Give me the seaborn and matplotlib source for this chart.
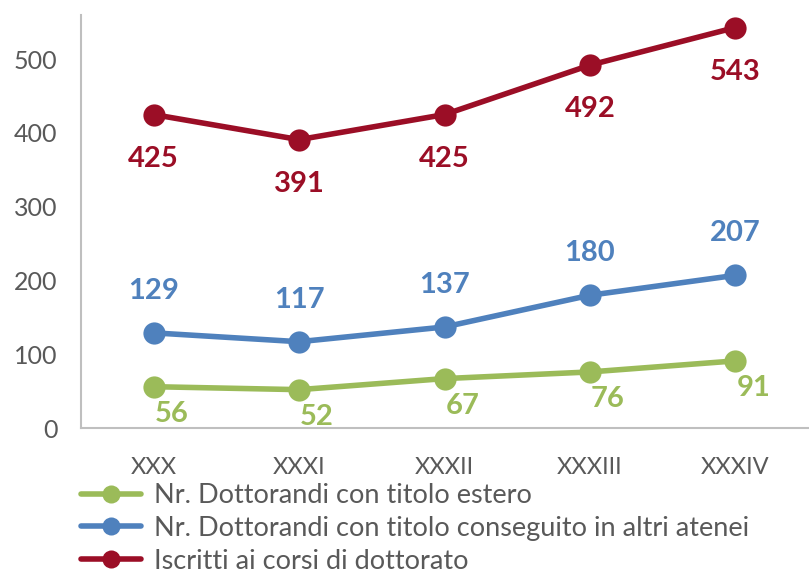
import matplotlib.pyplot as plt
import pandas as pd
import seaborn as sns

# Data
cicli = ["XXX", "XXXI", "XXXII", "XXXIII", "XXXIV"]
estero = [56, 52, 67, 76, 91]
altri_atenei = [129, 117, 137, 180, 207]
iscritti = [425, 391, 425, 492, 543]

serie = [
    "Nr. Dottorandi con titolo estero",
    "Nr. Dottorandi con titolo conseguito in altri atenei",
    "Iscritti ai corsi di dottorato",
]
colori = ["#9BBB59", "#4F81BD", "#9B0E26"]

rows = []
for nome, valori in zip(serie, [estero, altri_atenei, iscritti]):
    for i, v in enumerate(valori):
        rows.append({"pos": i, "ciclo": cicli[i], "valore": v, "serie": nome})
df = pd.DataFrame(rows)

sns.set_style("white")
plt.rcParams["font.family"] = ["Lato", "DejaVu Sans"]
grigio = "#595959"

fig = plt.figure(figsize=(8.09, 5.75), dpi=100)
ax = fig.add_axes([81 / 809, (575 - 428) / 575, 727 / 809, 413 / 575])

sns.lineplot(
    data=df, x="pos", y="valore", hue="serie", hue_order=serie,
    palette=colori, marker="o", markersize=16, linewidth=4,
    markeredgewidth=0, ax=ax, legend=True,
)

# Data labels (offsets in pixels)
offsets = {serie[0]: (18, -27), serie[1]: (0, 42), serie[2]: (0, -44)}
for nome, valori, col in zip(serie, [estero, altri_atenei, iscritti], colori):
    dx, dy = offsets[nome]
    for i, v in enumerate(valori):
        ax.annotate(str(v), (i, v), xytext=(dx * 0.72, dy * 0.72),
                    textcoords="offset points", ha="center", va="center",
                    fontsize=21, fontweight="bold", color=col)

ax.set_xlim(-0.5, 4.5)
ax.set_ylim(0, 560)
ax.set_yticks([0, 100, 200, 300, 400, 500])
ax.set_xticks(range(len(cicli)))
ax.set_xticklabels(cicli)
ax.set_xticks([i - 0.5 for i in range(len(cicli) + 1)], minor=True)
ax.tick_params(axis="x", which="major", length=0, pad=21, labelsize=17, labelcolor=grigio)
ax.tick_params(axis="x", which="minor", length=8, width=1.5, color="#BFBFBF", direction="out")
ax.tick_params(axis="y", length=8, width=1.5, color="#BFBFBF", pad=9, labelsize=18, labelcolor=grigio)
ax.set_xlabel("")
ax.set_ylabel("")

for s in ["top", "right"]:
    ax.spines[s].set_visible(False)
for s in ["left", "bottom"]:
    ax.spines[s].set_color("#BFBFBF")
    ax.spines[s].set_linewidth(1.5)

leg = ax.legend(
    loc="upper left", bbox_to_anchor=(0.0, -0.134), frameon=False,
    fontsize=19.5, handlelength=2.2, handletextpad=0.5, labelspacing=0.28,
    borderaxespad=0, borderpad=0,
)
for t in leg.get_texts():
    t.set_color(grigio)
for h in leg.legend_handles:
    h.set_markersize(13)

plt.savefig("out.png", dpi=100)
